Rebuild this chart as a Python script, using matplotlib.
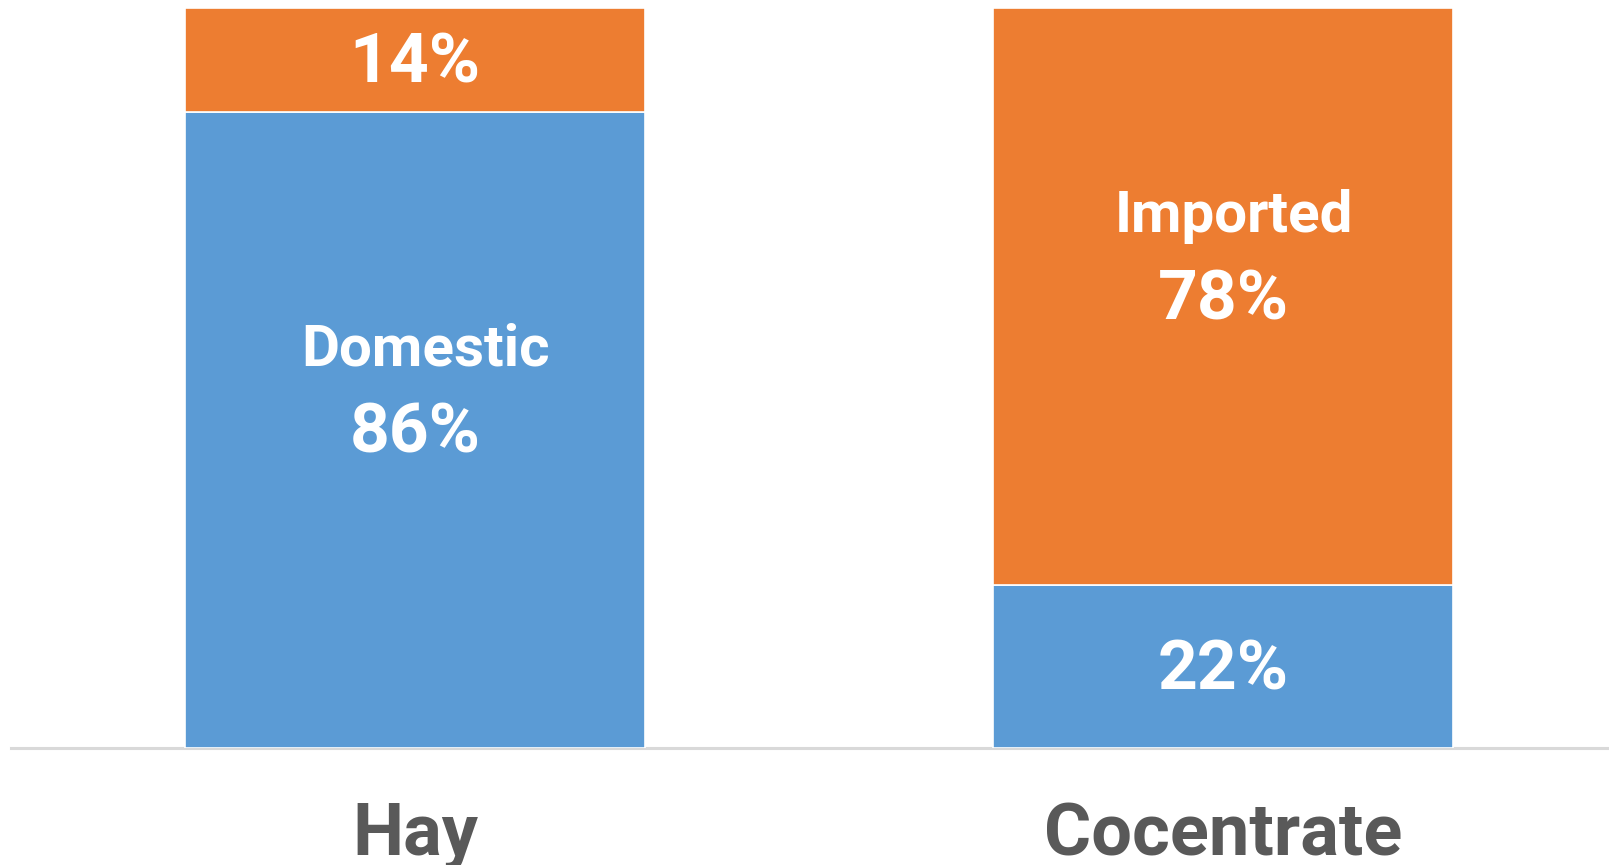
import matplotlib
matplotlib.use("Agg")
import matplotlib.pyplot as plt

categories = ["Hay", "Cocentrate"]
domestic = [86, 22]
imported = [14, 78]
series_names = ["Domestic", "Imported"]
# which bar shows the series name above its value
name_on = {"Domestic": 0, "Imported": 1}

BLUE = "#5B9BD5"
ORANGE = "#ED7D31"
GRAY = "#595959"
FONT = ["Roboto", "DejaVu Sans"]

W, H = 1609, 865
fig = plt.figure(figsize=(W / 100, H / 100), dpi=100)
left_px, right_px, bottom_px, top_px = 11, 1609, 748, 8.3
ax = fig.add_axes([left_px / W, (H - bottom_px) / H,
                   (right_px - left_px) / W, (bottom_px - top_px) / H])

x = list(range(len(categories)))
bw = 0.5705
ax.bar(x, domestic, width=bw, color=BLUE, edgecolor="white", linewidth=1.2, zorder=2)
ax.bar(x, imported, width=bw, bottom=domestic, color=ORANGE, edgecolor="white",
       linewidth=1.2, zorder=2)

ax.set_xlim(-0.5, 1.4777)
ax.set_ylim(0, 100)

PX = 72 / 100  # points per pixel
for name, vals, bottoms in [("Domestic", domestic, [0] * len(domestic)),
                            ("Imported", imported, domestic)]:
    for i, (v, b) in enumerate(zip(vals, bottoms)):
        yc = b + v / 2
        ax.annotate(f"{v}%", (i, yc), xytext=(0, -22.5 * PX), textcoords="offset points",
                    ha="center", va="baseline", color="white", fontsize=50,
                    fontweight="bold", family=FONT, zorder=3)
        if name_on[name] == i:
            ax.annotate(name, (i, yc), xytext=(11 * PX, 64.5 * PX), textcoords="offset points",
                        ha="center", va="baseline", color="white", fontsize=42,
                        fontweight="bold", family=FONT, zorder=3)

for sp in ["top", "right", "left"]:
    ax.spines[sp].set_visible(False)
ax.spines["bottom"].set_color("#D9D9D9")
ax.spines["bottom"].set_linewidth(2.2)
ax.spines["bottom"].set_zorder(1)
ax.set_yticks([])
ax.set_xticks(x)
ax.set_xticklabels(categories, fontsize=52, fontweight="bold", color=GRAY, family=FONT)
for t in ax.get_xticklabels():
    t.set_verticalalignment("baseline")
ax.tick_params(axis="x", length=0, pad=107 * PX)

fig.savefig("out.png", dpi=100)
